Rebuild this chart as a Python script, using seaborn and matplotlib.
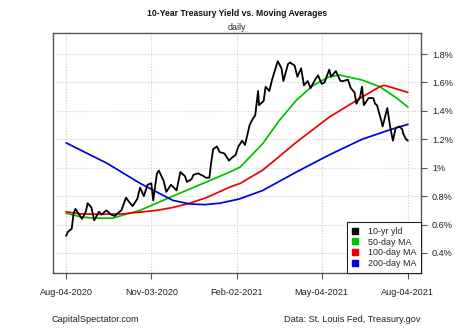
import matplotlib
matplotlib.use("Agg")
import matplotlib.pyplot as plt
from matplotlib.lines import Line2D
import seaborn as sns
import pandas as pd

# ---- data ----
yield_dates = [
    "2020-08-04", "2020-08-06", "2020-08-10", "2020-08-12", "2020-08-14", "2020-08-18", "2020-08-21",
    "2020-08-25", "2020-08-27", "2020-08-31", "2020-09-03", "2020-09-08", "2020-09-11", "2020-09-16",
    "2020-09-21", "2020-09-25", "2020-09-30", "2020-10-02", "2020-10-07", "2020-10-09", "2020-10-14",
    "2020-10-19", "2020-10-22", "2020-10-26", "2020-10-30", "2020-11-03", "2020-11-05", "2020-11-09",
    "2020-11-11", "2020-11-16", "2020-11-19", "2020-11-24", "2020-11-30", "2020-12-04", "2020-12-09",
    "2020-12-11", "2020-12-16", "2020-12-18", "2020-12-23", "2020-12-29", "2020-12-31", "2021-01-04",
    "2021-01-06", "2021-01-08", "2021-01-12", "2021-01-15", "2021-01-20", "2021-01-25", "2021-01-28",
    "2021-02-01", "2021-02-04", "2021-02-08", "2021-02-11", "2021-02-16", "2021-02-19", "2021-02-22",
    "2021-02-25", "2021-02-26", "2021-03-03", "2021-03-05", "2021-03-09", "2021-03-12", "2021-03-18",
    "2021-03-22", "2021-03-24", "2021-03-29", "2021-03-31", "2021-04-05", "2021-04-08", "2021-04-12",
    "2021-04-15", "2021-04-19", "2021-04-22", "2021-04-27", "2021-04-30", "2021-05-04", "2021-05-07",
    "2021-05-12", "2021-05-14", "2021-05-19", "2021-05-24", "2021-05-27", "2021-06-01", "2021-06-04",
    "2021-06-08", "2021-06-10", "2021-06-14", "2021-06-16", "2021-06-18", "2021-06-23", "2021-06-28",
    "2021-06-30", "2021-07-02", "2021-07-07", "2021-07-08", "2021-07-13", "2021-07-16", "2021-07-19",
    "2021-07-22", "2021-07-26", "2021-07-29", "2021-07-30", "2021-08-02", "2021-08-04",
]
yield_values = [
    0.52, 0.55, 0.57, 0.68, 0.71, 0.67, 0.64,
    0.69, 0.75, 0.72, 0.63, 0.69, 0.67, 0.70,
    0.67, 0.66, 0.69, 0.70, 0.79, 0.77, 0.73,
    0.78, 0.86, 0.80, 0.88, 0.89, 0.77, 0.96,
    0.98, 0.91, 0.83, 0.88, 0.84, 0.97, 0.94,
    0.90, 0.92, 0.95, 0.96, 0.94, 0.93, 0.93,
    1.04, 1.13, 1.15, 1.11, 1.10, 1.05, 1.07,
    1.09, 1.15, 1.19, 1.16, 1.30, 1.34, 1.37,
    1.54, 1.44, 1.47, 1.57, 1.54, 1.62, 1.75,
    1.70, 1.61, 1.73, 1.74, 1.72, 1.64, 1.70,
    1.58, 1.61, 1.56, 1.62, 1.65, 1.59, 1.60,
    1.69, 1.64, 1.68, 1.61, 1.61, 1.62, 1.56,
    1.53, 1.45, 1.50, 1.57, 1.44, 1.49, 1.49,
    1.45, 1.44, 1.32, 1.29, 1.42, 1.29, 1.19,
    1.28, 1.29, 1.27, 1.24, 1.20, 1.19,
]

ma50_dates = ["2020-08-04", "2020-08-19", "2020-09-02", "2020-09-23", "2020-10-04", "2020-10-22",
              "2020-11-26", "2021-01-01", "2021-01-26", "2021-02-06", "2021-03-02", "2021-03-20",
              "2021-04-07", "2021-04-25", "2021-05-12", "2021-05-23", "2021-06-16", "2021-07-05",
              "2021-07-23", "2021-08-04"]
ma50_values = [0.68, 0.655, 0.645, 0.645, 0.667, 0.70,
               0.80, 0.90, 0.97, 1.005, 1.17, 1.335,
               1.476, 1.58, 1.64, 1.652, 1.617, 1.57,
               1.49, 1.427]

ma100_dates = ["2020-08-04", "2020-08-19", "2020-09-09", "2020-10-04", "2020-11-09", "2020-11-26",
               "2020-12-14", "2021-01-01", "2021-01-26", "2021-02-06", "2021-03-02", "2021-04-07",
               "2021-05-12", "2021-06-16", "2021-07-05", "2021-07-10", "2021-08-04"]
ma100_values = [0.69, 0.675, 0.672, 0.675, 0.70, 0.72,
                0.75, 0.79, 0.864, 0.89, 0.983, 1.18,
                1.356, 1.497, 1.57, 1.58, 1.53]

ma200_dates = ["2020-08-04", "2020-09-17", "2020-10-22", "2020-11-26", "2020-12-14", "2020-12-30",
               "2021-01-15", "2021-02-05", "2021-03-02", "2021-04-07", "2021-05-12", "2021-06-16",
               "2021-07-15", "2021-08-04"]
ma200_values = [1.175, 1.03, 0.89, 0.77, 0.745, 0.74,
                0.75, 0.78, 0.84, 0.97, 1.09, 1.20,
                1.265, 1.305]

series_names = ["10-yr yld", "50-day MA", "100-day MA", "200-day MA"]
series_colors = ["#000000", "#00C000", "#EE0000", "#0000E0"]

x_ticks = ["2020-08-04", "2020-11-03", "2021-02-02", "2021-05-04", "2021-08-04"]
y_ticks = [0.4, 0.6, 0.8, 1.0, 1.2, 1.4, 1.6, 1.8]
y_tick_labels = ["0.4%", "0.6%", "0.8%", "1%", "1.2%", "1.4%", "1.6%", "1.8%"]

# ---- build table ----
frames = []
for name, d, v in zip(series_names,
                      [yield_dates, ma50_dates, ma100_dates, ma200_dates],
                      [yield_values, ma50_values, ma100_values, ma200_values]):
    frames.append(pd.DataFrame({"date": pd.to_datetime(d), "value": v, "series": name}))
df = pd.concat(frames, ignore_index=True)

sns.set_style("white")
plt.rcParams["font.family"] = ["Liberation Sans", "DejaVu Sans"]

fig = plt.figure(figsize=(4.74, 3.28), dpi=100)
ax = fig.add_axes([53 / 474, 55 / 328, 368 / 474, 240 / 328])

for name, col in zip(series_names, series_colors):
    sub = df[df["series"] == name]
    lw = 1.3 if name == "10-yr yld" else 1.25
    sns.lineplot(data=sub, x="date", y="value", color=col, linewidth=lw, ax=ax,
                 legend=False, estimator=None, zorder=3 if name == "10-yr yld" else 2)

ax.set_xlim(pd.Timestamp("2020-07-21"), pd.Timestamp("2021-08-18"))
ax.set_ylim(0.259, 1.948)

xt = pd.to_datetime(x_ticks)
ax.set_xticks(xt)
ax.set_xticklabels([t.strftime("%b-%d-%Y") for t in xt])
ax.set_yticks(y_ticks)
ax.set_yticklabels(y_tick_labels)
ax.yaxis.tick_right()
ax.set_xlabel("")
ax.set_ylabel("")

ax.grid(True, linestyle=(0, (1, 1.5)), color="#d0d0d0", linewidth=0.8)
ax.set_axisbelow(True)
for s in ax.spines.values():
    s.set_color("#555555")
    s.set_linewidth(1.0)

ax.tick_params(axis="x", direction="out", length=4, width=0.8, color="#555555",
               labelsize=6.6, pad=7, labelcolor="#222222", bottom=True)
ax.tick_params(axis="y", direction="out", length=4, width=0.8, color="#555555",
               labelsize=6.6, pad=4, labelcolor="#222222", right=True, left=False)

handles = [Line2D([], [], marker="s", linestyle="none", markersize=4.8,
                  markerfacecolor=c, markeredgecolor=c) for c in series_colors]
leg = ax.legend(handles, series_names, loc="lower right", frameon=True, fancybox=False,
                framealpha=1, edgecolor="#222222", borderaxespad=0, fontsize=6.4,
                handlelength=0.8, handletextpad=1.0, labelspacing=0.2,
                borderpad=0.55)
leg.get_frame().set_linewidth(0.8)

fig.text(237 / 474, 1 - 14 / 328, "10-Year Treasury Yield vs. Moving Averages",
         ha="center", va="center", fontsize=6.2, fontweight="bold", color="#111111")
fig.text(237 / 474, 1 - 27 / 328, "daily", ha="center", va="center", fontsize=6.4,
         color="#222222")
fig.text(52 / 474, 1 - 320 / 328, "CapitalSpectator.com", ha="left", va="center",
         fontsize=6.6, color="#222222")
fig.text(421 / 474, 1 - 320 / 328, "Data: St. Louis Fed, Treasury.gov", ha="right",
         va="center", fontsize=6.6, color="#222222")

fig.savefig("out.png", dpi=100)
